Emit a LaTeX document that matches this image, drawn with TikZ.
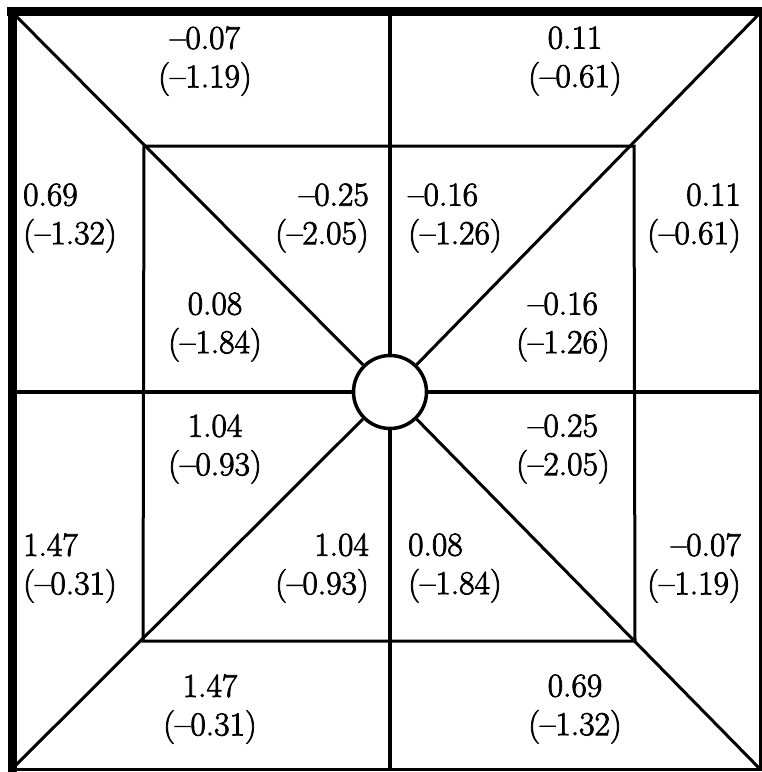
\documentclass[tikz,border=0pt]{standalone}
\usepackage{fontspec}
\newfontfamily\valfont{Latin Modern Roman}[Ligatures=TeX,FakeBold=2.2]
\begin{document}
\begin{tikzpicture}[x=1pt,y=-1pt,
  val/.style={inner sep=0pt,font=\valfont\fontsize{33.5}{38.5}\selectfont},
  cval/.style={val,align=center},
  lval/.style={val,align=left,anchor=west},
  rval/.style={val,align=right,anchor=east},
  ln/.style={line width=3pt},
  mid/.style={line width=4pt}]
\useasboundingbox (0,0) rectangle (762,772);
% frame
\coordinate (otl) at (12,12);
\coordinate (otr) at (760,13);
\coordinate (obl) at (12,769);
\coordinate (obr) at (760,769);
\draw[line width=9pt] (12,7) -- (12,772);
\draw[line width=8.5pt] (7,11.5) -- (762,11.5);
\draw[line width=3pt] (760.5,11) -- (760.5,771);
\draw[line width=3pt] (12,769.5) -- (762,769.5);
% centre circle
\node[circle,draw,line width=3.5pt,minimum size=73pt,inner sep=0pt] (c) at (390,392) {};
% inner square
\coordinate (itl) at (144,146);
\coordinate (itr) at (634,146);
\coordinate (ibl) at (143,641);
\coordinate (ibr) at (635,641);
\draw[ln] (itl) -- (itr) -- (ibr) -- (ibl) -- cycle;
% diagonals
\draw[ln] (otl) -- (c);
\draw[ln] (otr) -- (c);
\draw[ln] (obl) -- (c);
\draw[ln] (obr) -- (c);
% mid lines
\coordinate (tm) at (390,12);
\coordinate (bm) at (390,769);
\coordinate (lm) at (12,392);
\coordinate (rm) at (760,392);
\draw[mid] (tm) -- (c);
\draw[mid] (bm) -- (c);
\draw[mid] (lm) -- (c);
\draw[mid] (rm) -- (c);
% values
\node[cval] (t1) at (205,61) {--0.07\\(--1.19)};
\node[cval] (t2) at (575,61) {0.11\\(--0.61)};
\node[lval] (l1) at (23,218) {0.69\\(--1.32)};
\node[rval] (r1) at (741,218) {0.11\\(--0.61)};
\node[rval] (i1) at (369,218) {--0.25\\(--2.05)};
\node[lval] (i2) at (408,218) {--0.16\\(--1.26)};
\node[cval] (i3) at (215,327) {0.08\\(--1.84)};
\node[cval] (i4) at (563,327) {--0.16\\(--1.26)};
\node[cval] (i5) at (215,449) {1.04\\(--0.93)};
\node[cval] (i6) at (563,449) {--0.25\\(--2.05)};
\node[lval] (l2) at (23,568) {1.47\\(--0.31)};
\node[rval] (i7) at (369,568) {1.04\\(--0.93)};
\node[lval] (i8) at (408,568) {0.08\\(--1.84)};
\node[rval] (r2) at (741,568) {--0.07\\(--1.19)};
\node[cval] (b1) at (210,709) {1.47\\(--0.31)};
\node[cval] (b2) at (575,709) {0.69\\(--1.32)};
\end{tikzpicture}
\end{document}
